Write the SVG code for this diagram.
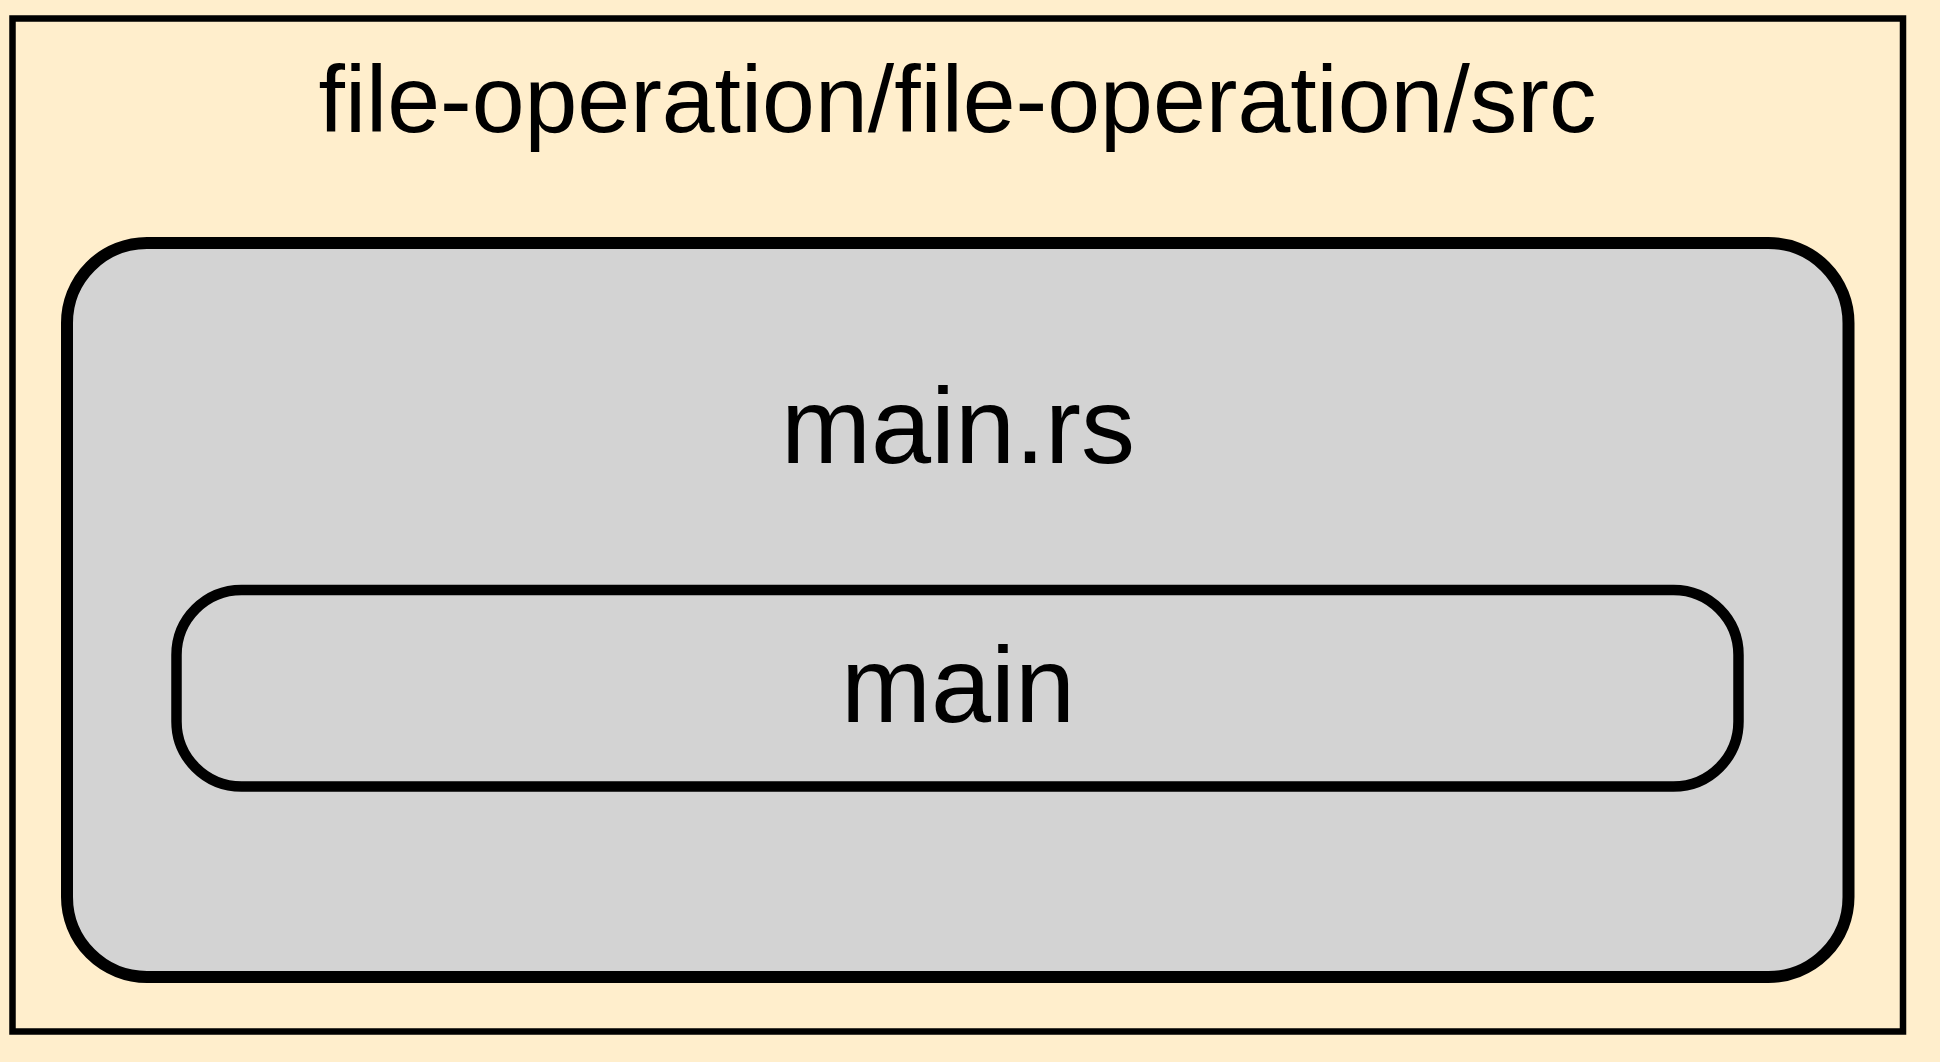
<svg xmlns="http://www.w3.org/2000/svg" width="1940" height="1062" viewBox="0 0 1940 1062">
<style>
text { font-family: "Liberation Sans", Arial, sans-serif; fill: #000; text-anchor: middle; }
.box { fill: #d3d3d3; stroke: #000; }
</style>
<rect x="0" y="0" width="1940" height="1062" fill="#ffeecc"/>
<g id="cluster_src">
<rect x="12.5" y="18.5" width="1890.5" height="1013" fill="#ffeecc" stroke="#000" stroke-width="6.5"/>
<text x="957.5" y="131.5" font-size="95">file-operation/file-operation/src</text>
</g>
<g id="node_main_rs">
<rect class="box" x="67" y="243" width="1781.5" height="734" rx="80" ry="80" stroke-width="12"/>
<text x="958" y="463" font-size="108">main.rs</text>
</g>
<g id="node_main">
<rect class="box" x="176.5" y="590" width="1562" height="196.5" rx="65" ry="65" stroke-width="10.5"/>
<text x="958" y="721.5" font-size="108">main</text>
</g>
<g id="connectors"></g>
</svg>
